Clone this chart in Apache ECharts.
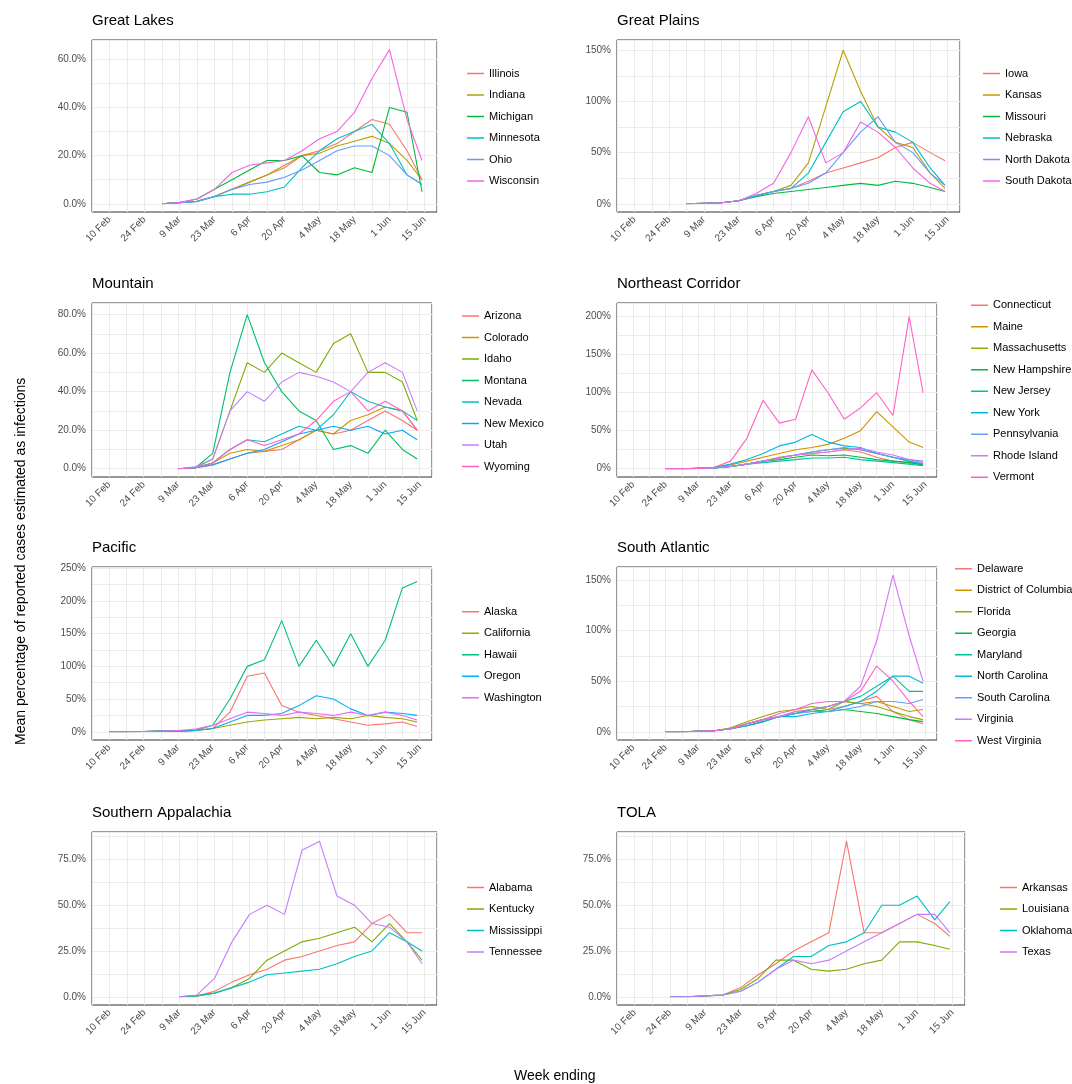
<!DOCTYPE html>
<html>
<head>
<meta charset="utf-8">
<script src="https://cdn.jsdelivr.net/npm/echarts@6/dist/echarts.min.js"></script>
<style>
  html, body { margin: 0; padding: 0; background: #fff; }
  #chart { width: 1072px; height: 1084px; }
</style>
</head>
<body>
<div id="chart"></div>
<script>
// weekly sample dates (2020)
var dates = ['2020-02-10', '2020-02-17', '2020-02-24', '2020-03-02', '2020-03-09', '2020-03-16',
  '2020-03-23', '2020-03-30', '2020-04-06', '2020-04-13', '2020-04-20', '2020-04-27', '2020-05-04',
  '2020-05-11', '2020-05-18', '2020-05-25', '2020-06-01', '2020-06-08', '2020-06-14'];
var tickDates = ['2020-02-10', '2020-02-24', '2020-03-09', '2020-03-23', '2020-04-06', '2020-04-20',
  '2020-05-04', '2020-05-18', '2020-06-01', '2020-06-15'];

// Great Lakes (from 2 Mar)
var greatLakesStates = ['Illinois', 'Indiana', 'Michigan', 'Minnesota', 'Ohio', 'Wisconsin'];
var greatLakesValues = [
  [0, 0.5, 1, 3, 6, 9, 12, 15, 20, 22, 25, 30, 35, 33, 22, 10],
  [0, 0.5, 1, 3, 6, 9, 12, 16, 20, 21, 24, 26, 28, 25, 18, 10],
  [0, 0.5, 2, 6, 10, 14, 18, 18, 20, 13, 12, 15, 13, 40, 38, 5],
  [0, 0.5, 1, 3, 4, 4, 5, 7, 15, 22, 27, 30, 33, 25, 12, 8],
  [0, 0.5, 1, 3, 6, 8, 9, 11, 14, 18, 22, 24, 24, 20, 12, 8],
  [0, 0.5, 2, 6, 13, 16, 17, 18, 22, 27, 30, 38, 52, 64, 35, 18]
];
// Great Plains (from 2 Mar)
var greatPlainsStates = ['Iowa', 'Kansas', 'Missouri', 'Nebraska', 'North Dakota', 'South Dakota'];
var greatPlainsValues = [
  [0, 0.5, 1, 3, 8, 12, 15, 22, 30, 35, 40, 45, 55, 60, 50, 42],
  [0, 0.5, 1, 3, 8, 12, 18, 40, 95, 150, 110, 75, 60, 55, 30, 15],
  [0, 0.5, 1, 3, 7, 10, 12, 14, 16, 18, 20, 18, 22, 20, 16, 12],
  [0, 0.5, 1, 3, 8, 12, 15, 30, 60, 90, 100, 75, 70, 60, 35, 18],
  [0, 0.5, 1, 3, 8, 12, 15, 20, 30, 50, 70, 85, 60, 50, 30, 18],
  [0, 0.5, 1, 3, 10, 20, 50, 85, 40, 50, 80, 70, 55, 35, 20, 12]
];
// Mountain (from 9 Mar)
var mountainStates = ['Arizona', 'Colorado', 'Idaho', 'Montana', 'Nevada', 'New Mexico', 'Utah', 'Wyoming'];
var mountainValues = [
  [0, 0.5, 2, 5, 8, 9, 10, 15, 20, 18, 20, 25, 30, 25, 20],
  [0, 0.5, 3, 8, 10, 9, 12, 15, 20, 18, 25, 28, 32, 30, 20],
  [0, 0.5, 5, 30, 55, 50, 60, 55, 50, 65, 70, 50, 50, 45, 25],
  [0, 0.5, 8, 50, 80, 55, 40, 30, 25, 10, 12, 8, 20, 10, 5],
  [0, 0.5, 3, 10, 15, 14, 18, 22, 20, 28, 40, 35, 32, 30, 25],
  [0, 0.5, 2, 5, 8, 10, 14, 18, 20, 22, 20, 22, 18, 20, 15],
  [0, 1, 5, 30, 40, 35, 45, 50, 48, 45, 40, 50, 55, 50, 30],
  [0, 0.5, 3, 10, 15, 12, 15, 18, 25, 35, 40, 30, 35, 30, 20]
];
// Northeast Corridor (from 24 Feb)
var northeastStates = ['Connecticut', 'Maine', 'Massachusetts', 'New Hampshire', 'New Jersey', 'New York',
  'Pennsylvania', 'Rhode Island', 'Vermont'];
var northeastValues = [
  [0, 0, 0.5, 1, 3, 6, 10, 14, 18, 20, 22, 25, 22, 15, 10, 8, 5],
  [0, 0, 0.5, 2, 5, 10, 15, 20, 25, 28, 32, 40, 50, 75, 55, 35, 28],
  [0, 0, 0.5, 1, 3, 6, 10, 15, 18, 22, 25, 27, 25, 20, 15, 10, 6],
  [0, 0, 0.5, 1, 3, 6, 10, 12, 15, 18, 17, 18, 15, 12, 10, 8, 5],
  [0, 0, 0.5, 1, 3, 6, 8, 10, 12, 14, 14, 15, 12, 10, 8, 6, 4],
  [0, 0, 0.5, 2, 6, 12, 20, 30, 35, 45, 35, 30, 28, 20, 15, 10, 6],
  [0, 0, 0.5, 1, 3, 6, 10, 14, 18, 22, 25, 28, 25, 20, 15, 12, 10],
  [0, 0, 0.5, 1, 3, 6, 10, 14, 18, 20, 22, 25, 27, 22, 18, 12, 8],
  [0, 0, 0.5, 2, 10, 40, 90, 60, 65, 130, 100, 65, 80, 100, 70, 200, 100]
];
// Pacific (from 10 Feb)
var pacificStates = ['Alaska', 'California', 'Hawaii', 'Oregon', 'Washington'];
var pacificValues = [
  [0, 0, 0.5, 1, 1, 2, 5, 30, 85, 90, 40, 30, 25, 20, 15, 10, 12, 15, 8],
  [0, 0, 0.5, 1, 1, 2, 5, 10, 15, 18, 20, 22, 20, 22, 20, 25, 22, 20, 15],
  [0, 0, 0.5, 1, 1, 2, 10, 50, 100, 110, 170, 100, 140, 100, 150, 100, 140, 220, 230],
  [0, 0, 0.5, 1, 1, 2, 5, 15, 25, 25, 28, 40, 55, 50, 35, 25, 30, 28, 25],
  [0, 0, 0.5, 1, 2, 4, 10, 20, 30, 28, 25, 30, 28, 25, 30, 25, 30, 25, 18]
];
// South Atlantic (from 24 Feb)
var southAtlanticStates = ['Delaware', 'District of Columbia', 'Florida', 'Georgia', 'Maryland',
  'North Carolina', 'South Carolina', 'Virginia', 'West Virginia'];
var southAtlanticValues = [
  [0, 0, 0.5, 1, 3, 6, 10, 15, 18, 20, 22, 25, 30, 35, 20, 12, 8],
  [0, 0, 0.5, 1, 3, 8, 12, 15, 20, 22, 25, 30, 28, 30, 25, 20, 22],
  [0, 0, 0.5, 1, 4, 10, 15, 20, 22, 25, 22, 30, 28, 25, 20, 15, 12],
  [0, 0, 0.5, 1, 3, 8, 12, 15, 18, 22, 20, 22, 20, 18, 15, 12, 10],
  [0, 0, 0.5, 1, 3, 6, 10, 15, 18, 22, 25, 30, 35, 45, 55, 40, 40],
  [0, 0, 0.5, 1, 3, 6, 10, 15, 15, 18, 20, 25, 30, 40, 55, 55, 48],
  [0, 0, 0.5, 1, 3, 8, 12, 15, 18, 20, 20, 22, 25, 30, 30, 28, 32],
  [0, 0, 0.5, 1, 3, 8, 12, 15, 20, 22, 25, 30, 45, 90, 155, 95, 50],
  [0, 0, 0.5, 1, 3, 8, 12, 18, 22, 28, 30, 30, 40, 65, 50, 30, 15]
];
// Southern Appalachia (from 9 Mar)
var appalachiaStates = ['Alabama', 'Kentucky', 'Mississippi', 'Tennessee'];
var appalachiaValues = [
  [0, 0.5, 3, 8, 12, 15, 20, 22, 25, 28, 30, 40, 45, 35, 35],
  [0, 0.5, 2, 5, 10, 20, 25, 30, 32, 35, 38, 30, 40, 30, 20],
  [0, 0.5, 2, 5, 8, 12, 13, 14, 15, 18, 22, 25, 35, 30, 25],
  [0, 1, 10, 30, 45, 50, 45, 80, 85, 55, 50, 40, 38, 30, 18]
];
// TOLA (from 24 Feb)
var tolaStates = ['Arkansas', 'Louisiana', 'Oklahoma', 'Texas'];
var tolaValues = [
  [0, 0, 0.5, 1, 5, 12, 18, 25, 30, 35, 85, 35, 35, 40, 45, 40, 33],
  [0, 0, 0.5, 1, 4, 10, 20, 20, 15, 14, 15, 18, 20, 30, 30, 28, 26],
  [0, 0, 0.5, 1, 3, 8, 15, 22, 22, 28, 30, 35, 50, 50, 55, 42, 52],
  [0, 0, 0.5, 1, 3, 8, 15, 20, 18, 20, 25, 30, 35, 40, 45, 45, 35]
];

var hue = {
  4: ['#F8766D', '#7CAE00', '#00BFC4', '#C77CFF'],
  5: ['#F8766D', '#A3A500', '#00BF7D', '#00B0F6', '#E76BF3'],
  6: ['#F8766D', '#B79F00', '#00BA38', '#00BFC4', '#619CFF', '#F564E3'],
  8: ['#F8766D', '#CD9600', '#7CAE00', '#00BE67', '#00BFC4', '#00A9FF', '#C77CFF', '#FF61CC'],
  9: ['#F8766D', '#D39200', '#93AA00', '#00BA38', '#00C19F', '#00B9E3', '#619CFF', '#DB72FB', '#FF61C3']
};

var panels = [
  { title: 'Great Lakes', states: greatLakesStates, values: greatLakesValues, start: 3,
    left: 92, right: 437, top: 40, bottom: 212, max: 68, step: 20, dec: 1, legendX: 462 },
  { title: 'Great Plains', states: greatPlainsStates, values: greatPlainsValues, start: 3,
    left: 617, right: 960, top: 40, bottom: 212, max: 160, step: 50, dec: 0, legendX: 978 },
  { title: 'Mountain', states: mountainStates, values: mountainValues, start: 4,
    left: 92, right: 432, top: 303, bottom: 477, max: 86, step: 20, dec: 1, legendX: 457 },
  { title: 'Northeast Corridor', states: northeastStates, values: northeastValues, start: 2,
    left: 617, right: 937, top: 303, bottom: 477, max: 218, step: 50, dec: 0, legendX: 966 },
  { title: 'Pacific', states: pacificStates, values: pacificValues, start: 0,
    left: 92, right: 432, top: 567, bottom: 740, max: 252, step: 50, dec: 0, legendX: 457 },
  { title: 'South Atlantic', states: southAtlanticStates, values: southAtlanticValues, start: 2,
    left: 617, right: 937, top: 567, bottom: 740, max: 163, step: 50, dec: 0, legendX: 950 },
  { title: 'Southern Appalachia', states: appalachiaStates, values: appalachiaValues, start: 4,
    left: 92, right: 437, top: 832, bottom: 1005, max: 90, step: 25, dec: 1, legendX: 462 },
  { title: 'TOLA', states: tolaStates, values: tolaValues, start: 2,
    left: 617, right: 965, top: 832, bottom: 1005, max: 90, step: 25, dec: 1, legendX: 995 }
];

var DAY = 86400000;
function ts(d) { return Date.parse(d + 'T00:00:00Z'); }
var xMin = ts('2020-02-03');
var xMax = ts('2020-06-20');
var xMajor = tickDates.map(ts);
var months = ['Jan', 'Feb', 'Mar', 'Apr', 'May', 'Jun'];

var option = {
  animation: false,
  backgroundColor: '#fff',
  textStyle: { fontFamily: 'Liberation Sans' },
  title: [], grid: [], xAxis: [], yAxis: [], legend: [], series: [],
  graphic: [
    { type: 'text', left: 514, top: 1069, style: { text: 'Week ending', fontSize: 14, fill: '#000', fontFamily: 'Liberation Sans' } },
    { type: 'text', x: 14, y: 745, rotation: Math.PI / 2,
      style: { text: 'Mean percentage of reported cases estimated as infections', fontSize: 14, fill: '#000', fontFamily: 'Liberation Sans' } }
  ]
};

panels.forEach(function (p, i) {
  var yMajor = [];
  for (var v = 0; v <= p.max; v += p.step) yMajor.push(v);
  var h = p.bottom - p.top;
  // 5% padding below zero, like ggplot's expansion
  var pad = h * 0.05 / 1.05;
  var outer = 2 * i, inner = 2 * i + 1;

  option.title.push({ text: p.title, left: p.left, top: p.top - 27, padding: 0,
    textStyle: { fontSize: 15, fontWeight: 'normal', color: '#000', fontFamily: 'Liberation Sans' } });
  // outer grid: full panel, border and vertical grid lines
  option.grid.push({ left: p.left, top: p.top, width: p.right - p.left, height: h,
    show: true, borderColor: '#333', borderWidth: 1, backgroundColor: 'transparent', z: 0 });
  // inner grid: from y=0 up, horizontal grid lines and the data
  option.grid.push({ left: p.left, top: p.top, width: p.right - p.left, height: h - pad, show: false });

  option.xAxis.push({
    type: 'value', gridIndex: outer, min: xMin, max: xMax, interval: 7 * DAY,
    axisLine: { show: false, onZero: false },
    axisTick: { show: false },
    axisLabel: { customValues: xMajor, rotate: 45, fontSize: 10, color: '#4d4d4d', margin: 6,
      formatter: function (val) { var d = new Date(val); return d.getUTCDate() + ' ' + months[d.getUTCMonth()]; } },
    splitLine: { show: true, lineStyle: { color: '#ebebeb' } }
  });
  option.yAxis.push({
    type: 'value', gridIndex: outer, min: 0, max: 1,
    axisLine: { show: false }, axisTick: { show: false }, axisLabel: { show: false }, splitLine: { show: false }
  });
  option.xAxis.push({
    type: 'value', gridIndex: inner, min: xMin, max: xMax,
    axisLine: { show: false }, axisTick: { show: false }, axisLabel: { show: false }, splitLine: { show: false }
  });
  option.yAxis.push({
    type: 'value', gridIndex: inner, min: 0, max: p.max, interval: p.step / 2,
    axisLine: { show: false, onZero: false },
    axisTick: { show: false },
    axisLabel: { customValues: yMajor, fontSize: 10, color: '#4d4d4d', margin: 6,
      formatter: function (val) { return val.toFixed(p.dec) + '%'; } },
    splitLine: { show: true, lineStyle: { color: '#ebebeb' } }
  });

  var cols = hue[p.states.length];
  var n = p.states.length;
  var rowH = 21.5;
  option.legend.push({
    orient: 'vertical', left: p.legendX,
    top: (p.top + p.bottom) / 2 - n * rowH / 2,
    data: p.states, icon: 'rect', itemWidth: 17, itemHeight: 1.5, itemGap: 7.5,
    textStyle: { fontSize: 11, color: '#000', fontFamily: 'Liberation Sans', lineHeight: 14 },
    selectedMode: false
  });
  p.states.forEach(function (s, k) {
    var data = p.values[k].map(function (v, j) { return [ts(dates[p.start + j]), v]; });
    option.series.push({
      name: s, type: 'line', xAxisIndex: inner, yAxisIndex: inner, data: data,
      showSymbol: false, symbol: 'none', color: cols[k],
      lineStyle: { width: 1.1, color: cols[k] }, itemStyle: { color: cols[k] }
    });
  });
});

var chart = echarts.init(document.getElementById('chart'));
chart.setOption(option);
</script>
</body>
</html>
